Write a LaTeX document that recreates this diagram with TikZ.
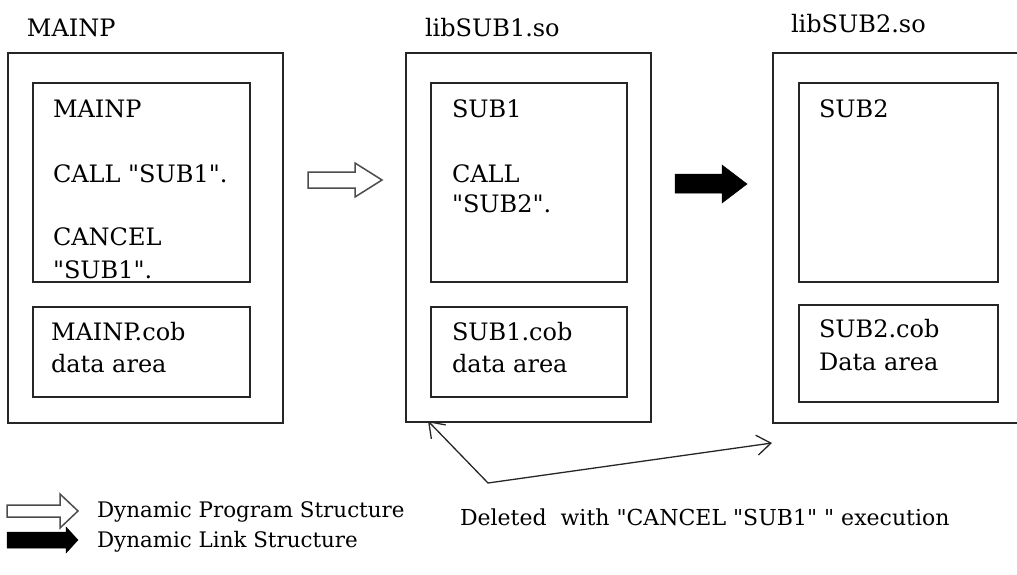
\documentclass[tikz,border=0pt]{standalone}
\usepackage{fontspec}
\setmainfont{DejaVu Serif}[Ligatures=TeXOff]
\usetikzlibrary{calc,arrows.meta}
\tikzset{
  box/.style={draw=black!85, line width=1.4pt, anchor=north west, inner sep=0, outer sep=0},
  txt/.style={anchor=base west, inner sep=0, outer sep=0, font=\fontsize{24}{30}\selectfont},
  sm/.style={anchor=base west, inner sep=0, outer sep=0, font=\fontsize{21.4}{26}\selectfont},
  hollowarrow/.style={draw=black!70, line width=1.5pt, fill=white, line join=miter},
  solidarrow/.style={draw=black, fill=black, line width=0.5pt},
  conn/.style={draw=black!85, line width=1.3pt, {Straight Barb[length=14pt,width=20pt]}-{Straight Barb[length=14pt,width=20pt]}}
}
\begin{document}
\begin{tikzpicture}[x=1pt,y=-1pt]
\useasboundingbox (0,0) rectangle (1017,575);
\clip (0,0) rectangle (1017,575);
% outer boxes
\node[box, minimum width=275, minimum height=370] (m) at (8,53) {};
\node[box, minimum width=245, minimum height=369] (s1) at (406,53) {};
\node[box, minimum width=260, minimum height=370] (s2) at (773,53) {};
% inner boxes
\node[box, minimum width=217, minimum height=199] (mcode) at (33,83) {};
\node[box, minimum width=217, minimum height=90] (mdata) at (33,307) {};
\node[box, minimum width=196, minimum height=199] (s1code) at (431,83) {};
\node[box, minimum width=196, minimum height=90] (s1data) at (431,307) {};
\node[box, minimum width=199, minimum height=199] (s2code) at (799,83) {};
\node[box, minimum width=199, minimum height=97] (s2data) at (799,305) {};
% titles
\node[txt] (tm) at (27,37) {MAINP};
\node[txt] (ts1) at (425,37) {libSUB1.so};
\node[txt] (ts2) at (791,33) {libSUB2.so};
% MAINP contents
\node[txt] (m1) at (53,118) {MAINP};
\node[txt] (m2) at (53,182) {CALL "SUB1".};
\node[txt] (m3) at (53,245) {CANCEL};
\node[txt] (m4) at (53,278) {"SUB1".};
\node[txt] (md1) at (51,340) {MAINP.cob};
\node[txt] (md2) at (51,372) {data area};
% SUB1 contents
\node[txt] (a1) at (452,118) {SUB1};
\node[txt] (a2) at (452,182) {CALL};
\node[txt] (a3) at (452,212) {"SUB2".};
\node[txt] (ad1) at (452,340) {SUB1.cob};
\node[txt] (ad2) at (452,372) {data area};
% SUB2 contents
\node[txt] (b1) at (819,118) {SUB2};
\node[txt] (bd1) at (819,337) {SUB2.cob};
\node[txt] (bd2) at (819,370) {Data area};
% big arrows
\draw[hollowarrow] (308,172) -- (355,172) -- (355,163) -- (382,180) -- (355,197) -- (355,188) -- (308,188) -- cycle;
\draw[solidarrow] (675,174) -- (722,174) -- (722,165) -- (747,184) -- (722,203) -- (722,193) -- (675,193) -- cycle;
% legend
\draw[hollowarrow] (7,505) -- (60,505) -- (60,494) -- (78,511) -- (60,528) -- (60,517) -- (7,517) -- cycle;
\draw[solidarrow] (7,532) -- (66,532) -- (66,527) -- (78,540) -- (66,553) -- (66,548) -- (7,548) -- cycle;
\node[sm] (l1) at (97,517) {Dynamic Program Structure};
\node[sm] (l2) at (97,547) {Dynamic Link Structure};
% connector
\coordinate (v) at (488,483);
\coordinate (t1) at ($(s1.south west)+(22,-1)$);
\coordinate (t2) at ($(s2.south west)+(-1,20)$);
\draw[conn] (t1) -- (v) -- (t2);
\node[sm, font=\fontsize{22}{26}\selectfont] (del) at (460,525) {Deleted\ \ with "CANCEL "SUB1" " execution};
\end{tikzpicture}
\end{document}
